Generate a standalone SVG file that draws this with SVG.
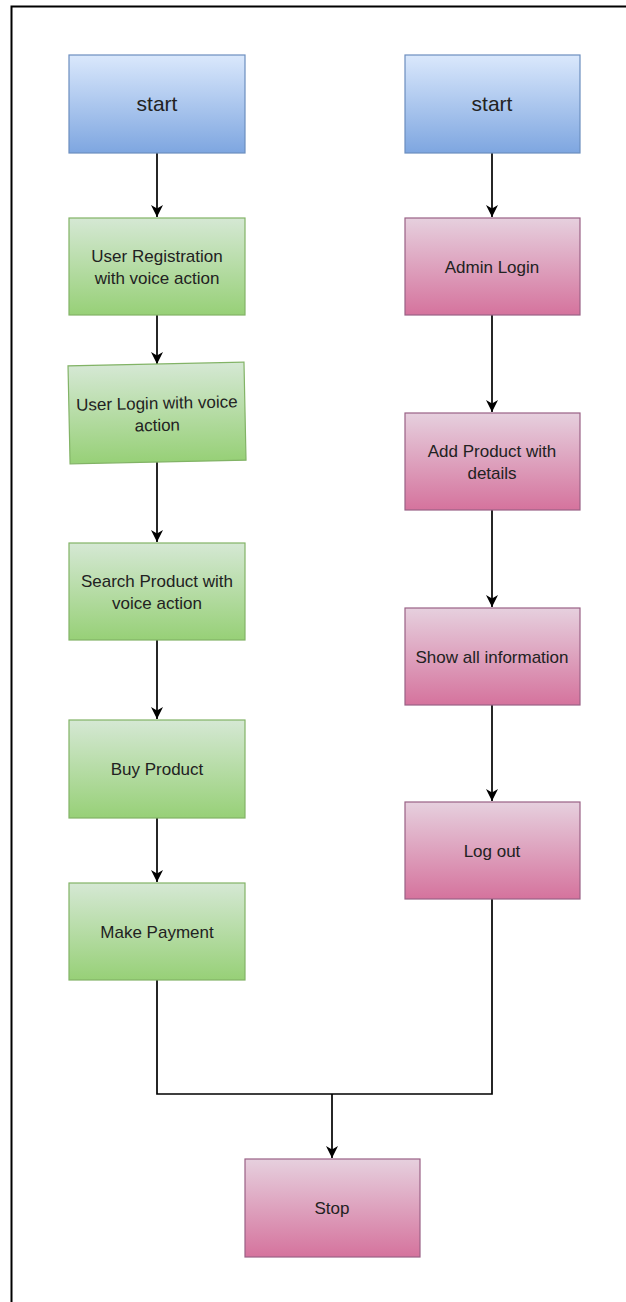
<svg xmlns="http://www.w3.org/2000/svg" width="626" height="1302" viewBox="0 0 626 1302">
<defs>
<linearGradient id="gBlue" x1="0" y1="0" x2="0" y2="1"><stop offset="0" stop-color="#dae8fc"/><stop offset="1" stop-color="#7ea6e0"/></linearGradient>
<linearGradient id="gGreen" x1="0" y1="0" x2="0" y2="1"><stop offset="0" stop-color="#d5e8d4"/><stop offset="1" stop-color="#97d077"/></linearGradient>
<linearGradient id="gPink" x1="0" y1="0" x2="0" y2="1"><stop offset="0" stop-color="#e6d0de"/><stop offset="1" stop-color="#d5739d"/></linearGradient>
<marker id="arr" viewBox="0 0 12 12" refX="12" refY="6" markerWidth="12" markerHeight="12" markerUnits="userSpaceOnUse" orient="auto"><path d="M0,0 L12,6 L0,12 L3.5,6 Z" fill="#000"/></marker>
</defs>
<style>
.blue{fill:url(#gBlue);stroke:#6c8ebf;stroke-width:1.2}
.green{fill:url(#gGreen);stroke:#82b366;stroke-width:1.2}
.pink{fill:url(#gPink);stroke:#996185;stroke-width:1.2}
text{font-family:"Liberation Sans",Arial,sans-serif;font-size:17px;fill:#222;text-anchor:middle}
.big{font-size:21px}
.conn{stroke:#000;stroke-width:1.7;fill:none}
</style>
<rect width="626" height="1302" fill="#fff"/>
<path d="M11.5,1302 V6.5 H626" stroke="#000" stroke-width="2" fill="none"/>
<g id="connectors">
<path class="conn" d="M157,153 V217" marker-end="url(#arr)"/>
<path class="conn" d="M157,315 V364" marker-end="url(#arr)"/>
<path class="conn" d="M157,462 V542" marker-end="url(#arr)"/>
<path class="conn" d="M157,640 V719" marker-end="url(#arr)"/>
<path class="conn" d="M157,818 V882" marker-end="url(#arr)"/>
<path class="conn" d="M492,153 V217" marker-end="url(#arr)"/>
<path class="conn" d="M492,315 V412" marker-end="url(#arr)"/>
<path class="conn" d="M492,510 V607" marker-end="url(#arr)"/>
<path class="conn" d="M492,705 V801" marker-end="url(#arr)"/>
<path class="conn" d="M157,980 V1094 H492 V899"/>
<path class="conn" d="M332,1094 V1158" marker-end="url(#arr)"/>
</g>
<g id="start1"><rect class="blue" x="69" y="55" width="176" height="98"/><text class="big" x="157" y="111">start</text></g>
<g id="start2"><rect class="blue" x="405" y="55" width="175" height="98"/><text class="big" x="492" y="111">start</text></g>
<g id="userReg"><rect class="green" x="69" y="218" width="176" height="97"/><text x="157" y="262">User Registration</text><text x="157" y="284">with voice action</text></g>
<g id="userLogin" transform="rotate(-1.2 157 412)"><rect class="green" x="69" y="364" width="176" height="98"/><text x="157" y="409">User Login with voice</text><text x="157" y="431">action</text></g>
<g id="search"><rect class="green" x="69" y="543" width="176" height="97"/><text x="157" y="587">Search Product with</text><text x="157" y="609">voice action</text></g>
<g id="buy"><rect class="green" x="69" y="720" width="176" height="98"/><text x="157" y="775">Buy Product</text></g>
<g id="pay"><rect class="green" x="69" y="883" width="176" height="97"/><text x="157" y="938">Make Payment</text></g>
<g id="admin"><rect class="pink" x="405" y="218" width="175" height="97"/><text x="492" y="273">Admin Login</text></g>
<g id="addProd"><rect class="pink" x="405" y="413" width="175" height="97"/><text x="492" y="457">Add Product with</text><text x="492" y="479">details</text></g>
<g id="show"><rect class="pink" x="405" y="608" width="175" height="97"/><text x="492" y="663">Show all information</text></g>
<g id="logout"><rect class="pink" x="405" y="802" width="175" height="97"/><text x="492" y="857">Log out</text></g>
<g id="stop"><rect class="pink" x="245" y="1159" width="175" height="98"/><text x="332" y="1214">Stop</text></g>
</svg>
